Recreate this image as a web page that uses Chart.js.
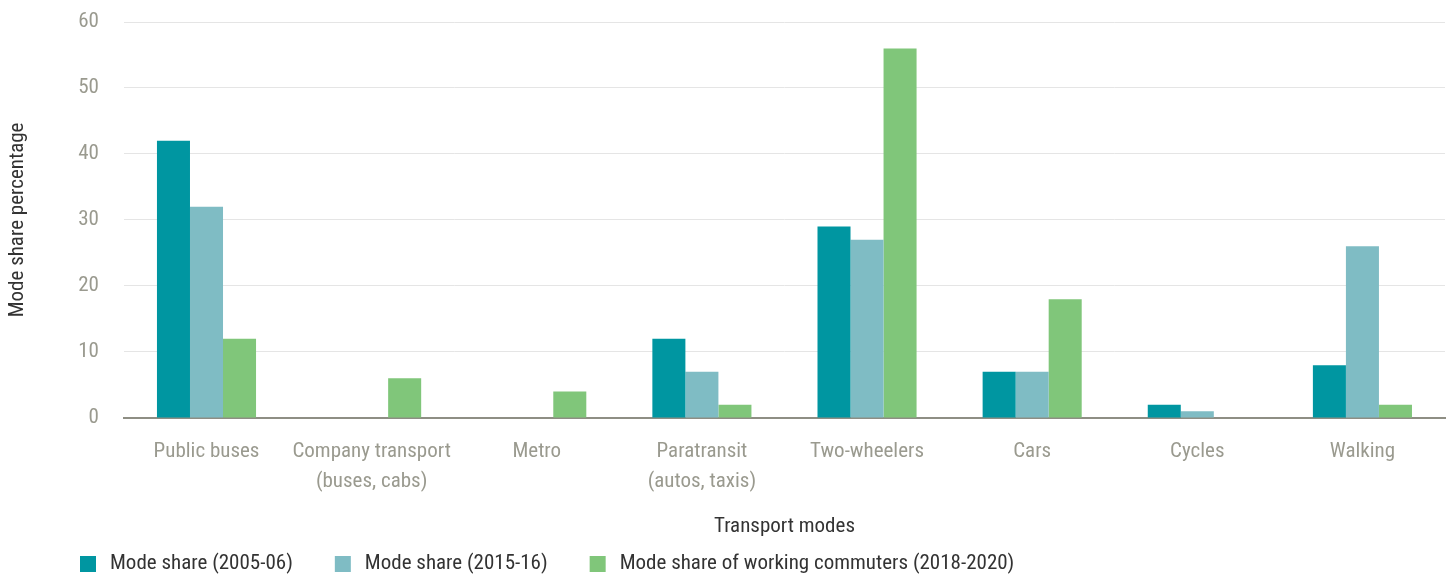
<!DOCTYPE html>
<html>
<head>
<meta charset="utf-8">
<script src="https://cdn.jsdelivr.net/npm/chart.js@4.4.0/dist/chart.umd.min.js"></script>
<style>
  html, body { margin: 0; padding: 0; background: #fff; }
  #wrap { position: relative; width: 1453px; height: 578px; }
</style>
</head>
<body>
<div id="wrap"><canvas id="modeChart"></canvas></div>
<script>
const categories = [
  "Public buses",
  ["Company transport", "(buses, cabs)"],
  "Metro",
  ["Paratransit", "(autos, taxis)"],
  "Two-wheelers",
  "Cars",
  "Cycles",
  "Walking"
]

const share2005 = [42, 0, 0, 12, 29, 7, 2, 8]
const share2015 = [32, 0, 0, 7, 27, 7, 1, 26]
const shareCommuters = [12, 6, 4, 2, 56, 18, 0, 2]

const seriesNames = [
  "Mode share (2005-06)",
  "Mode share (2015-16)",
  "Mode share of working commuters (2018-2020)"
]
const seriesColors = ["#0096a1", "#7fbcc4", "#80c67a"]

const yTicks = [0, 10, 20, 30, 40, 50, 60]

const fontFamily = "'Roboto Condensed', 'Liberation Sans Narrow', Roboto, sans-serif"

// legend drawn at the bottom left, like the original
const bottomLegend = {
  id: 'bottomLegend',
  afterDraw(chart) {
    const ctx = chart.ctx
    ctx.save()
    ctx.font = `21px ${fontFamily}`
    ctx.textBaseline = 'middle'
    let x = 80
    const y = 564
    chart.data.datasets.forEach(ds => {
      ctx.fillStyle = ds.backgroundColor
      ctx.fillRect(x, y - 8, 16, 16)
      ctx.fillStyle = '#333333'
      ctx.fillText(ds.label, x + 30, y)
      x += 30 + ctx.measureText(ds.label).width + 42
    })
    ctx.restore()
  }
}

const ctx = document.getElementById('modeChart').getContext('2d')
new Chart(ctx, {
  type: 'bar',
  data: {
    labels: categories,
    datasets: [
      { label: seriesNames[0], data: share2005, backgroundColor: seriesColors[0] },
      { label: seriesNames[1], data: share2015, backgroundColor: seriesColors[1] },
      { label: seriesNames[2], data: shareCommuters, backgroundColor: seriesColors[2] }
    ]
  },
  options: {
    responsive: true,
    maintainAspectRatio: false,
    animation: false,
    layout: { padding: { top: 22, right: 8, bottom: 41, left: 0 } },
    datasets: {
      bar: { categoryPercentage: 0.6, barPercentage: 1.0, borderWidth: 0 }
    },
    plugins: {
      legend: { display: false },
      tooltip: { enabled: false }
    },
    scales: {
      x: {
        grid: { display: false, drawTicks: false },
        border: { display: true, color: '#8e8e84', width: 2 },
        ticks: {
          color: '#9a9a8f',
          padding: 19,
          maxRotation: 0,
          autoSkip: false,
          font: { family: fontFamily, size: 21, lineHeight: 1.43 }
        },
        title: {
          display: true,
          text: 'Transport modes',
          color: '#333333',
          padding: { top: 0, bottom: 0 },
          font: { family: fontFamily, size: 21, lineHeight: 1.0 }
        }
      },
      y: {
        min: 0,
        max: 60,
        afterBuildTicks(axis) {
          axis.ticks = yTicks.map(v => ({ value: v }))
        },
        // invisible tick marks keep the labels away from the plot
        grid: { color: '#e5e5e5', lineWidth: 1, drawTicks: true, tickLength: 21, tickColor: 'rgba(0,0,0,0)' },
        border: { display: false },
        ticks: {
          color: '#9a9a8f',
          padding: 4,
          font: { family: fontFamily, size: 21, lineHeight: 1.0 }
        },
        title: {
          display: true,
          text: 'Mode share percentage',
          color: '#333333',
          padding: { top: 5, bottom: 44 },
          font: { family: fontFamily, size: 21, lineHeight: 1.2 }
        }
      }
    }
  },
  plugins: [bottomLegend]
})
</script>
</body>
</html>
